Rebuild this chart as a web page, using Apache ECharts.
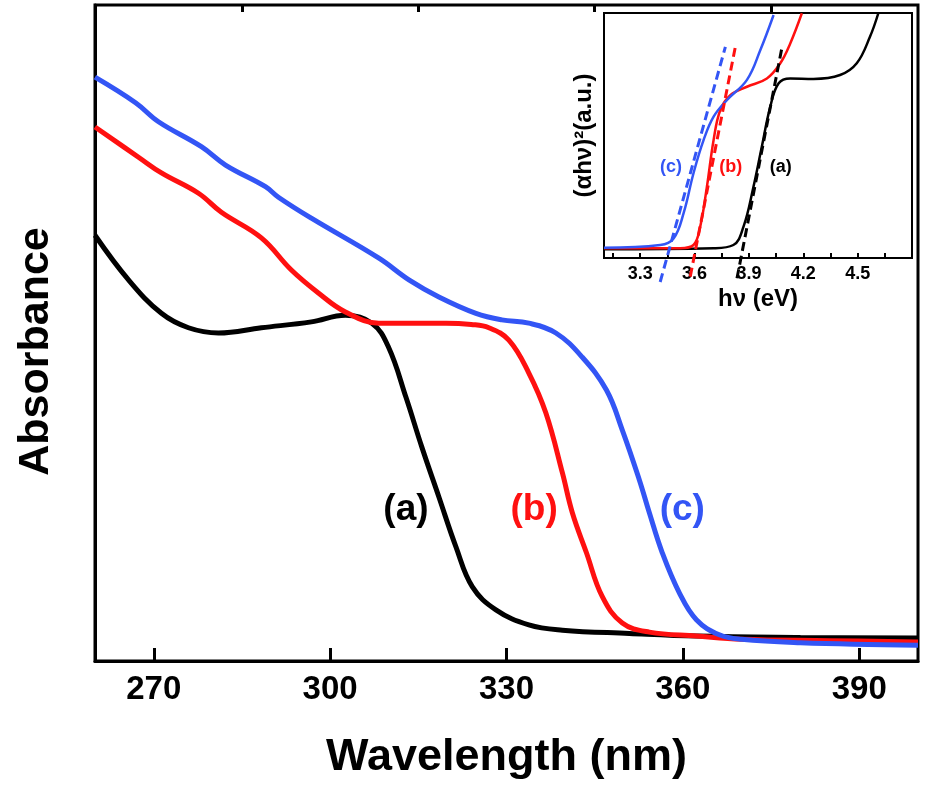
<!DOCTYPE html>
<html>
<head>
<meta charset="utf-8">
<script src="https://cdn.jsdelivr.net/npm/echarts@6/dist/echarts.min.js"></script>
<style>
  html, body { margin: 0; padding: 0; background: #fff; }
  #chart { width: 925px; height: 785px; }
</style>
</head>
<body>
<div id="chart"></div>
<script>
// main spectrum: [wavelength nm, absorbance a.u.]
const curveA = [[260,0.649],[265.7,0.581],[271.3,0.530],[275.9,0.508],[281,0.500],[288.3,0.508],[296.8,0.517],[302.6,0.527],[307.1,0.515],[309.9,0.479],[312.9,0.402],[315.6,0.326],[318.5,0.250],[321.4,0.174],[324.2,0.113],[328.2,0.078],[333.8,0.055],[339.5,0.047],[350.9,0.042],[362.3,0.038],[380,0.036],[400,0.035]]
const curveB = [[260,0.814],[267.4,0.768],[271.3,0.744],[277.6,0.713],[281.5,0.684],[288.3,0.645],[293.4,0.596],[298,0.561],[302.6,0.532],[308.3,0.515],[311.2,0.515],[319.7,0.515],[324,0.513],[327,0.508],[330.4,0.489],[333.8,0.439],[336.7,0.378],[339.5,0.287],[341.2,0.226],[343.6,0.165],[346.3,0.098],[349.7,0.058],[354.3,0.044],[362.3,0.038],[370,0.033],[385,0.031],[400,0.029]]
const curveC = [[260,0.890],[266.9,0.851],[270.8,0.822],[278.1,0.784],[282.2,0.756],[289,0.723],[291.2,0.707],[296.8,0.675],[308.3,0.614],[313.4,0.581],[318.5,0.555],[324.8,0.530],[329.2,0.520],[333.8,0.515],[338.4,0.500],[342.9,0.463],[347,0.413],[349.7,0.352],[352.6,0.276],[354.3,0.226],[356.5,0.165],[359.4,0.104],[362.3,0.063],[366.2,0.040],[370,0.033],[380,0.028],[400,0.024]]
const majorTicks = [270, 300, 330, 360, 390]
const minorTicks = [285, 315, 345, 375]
const curveLabels = [['(a)', 312.9, 0.23], ['(b)', 334.7, 0.23], ['(c)', 359.9, 0.23]]

// inset Tauc plot: [photon energy eV, (ahv)^2 a.u.]
const insetA = [[3.1,0.036],[3.705,0.040],[3.814,0.053],[3.870,0.128],[3.925,0.291],[3.971,0.454],[4.018,0.618],[4.064,0.713],[4.128,0.733],[4.256,0.731],[4.403,0.747],[4.495,0.795],[4.568,0.903],[4.614,0.999]]
const insetB = [[3.1,0.040],[3.521,0.040],[3.594,0.053],[3.631,0.128],[3.668,0.291],[3.705,0.482],[3.742,0.604],[3.797,0.665],[3.889,0.699],[3.999,0.733],[4.073,0.795],[4.128,0.876],[4.192,0.999]]
const insetC = [[3.1,0.042],[3.410,0.053],[3.484,0.080],[3.539,0.182],[3.594,0.346],[3.650,0.482],[3.705,0.577],[3.779,0.645],[3.889,0.727],[3.963,0.849],[4.036,0.992]]
const fitA = [[3.834,-0.083],[4.083,0.862]]
const fitB = [[3.576,-0.076],[3.825,0.862]]
const fitC = [[3.410,-0.098],[3.770,0.862]]
const insetTicks = [3.15,3.3,3.45,3.6,3.75,3.9,4.05,4.2,4.35,4.5,4.65]
const insetTickLabels = [3.3, 3.6, 3.9, 4.2, 4.5]
const insetLabels = [['(c)', 3.47, 0.371], ['(b)', 3.80, 0.371], ['(a)', 4.075, 0.371]]

const FONT = 'Liberation Sans, Arial, sans-serif'
const BLACK = '#000000', RED = '#ff1010', BLUE = '#3355f5'
const colors = [BLACK, RED, BLUE]

function line(data, color, width, gi, dashed) {
    return {
        type: 'line', xAxisIndex: gi === 0 ? 0 : 2, yAxisIndex: gi,
        data: data, showSymbol: false, symbol: 'none',
        smooth: dashed ? false : 0.4,
        clip: !dashed,
        lineStyle: { color: color, width: width, type: dashed ? [9, 5] : 'solid' },
        z: gi === 0 ? 3 : (dashed ? 8 : 7)
    }
}

function labels(list, gi, size) {
    return {
        type: 'scatter', xAxisIndex: gi === 0 ? 0 : 2, yAxisIndex: gi,
        symbolSize: 0, z: 9, itemStyle: { opacity: 1 },
        data: list.map(l => ({
            value: [l[1], l[2]],
            label: { show: true, position: 'inside', formatter: l[0],
                color: colors['abc'.indexOf(l[0][1])], fontSize: size, fontWeight: 'bold', fontFamily: FONT }
        }))
    }
}

const chart = echarts.init(document.getElementById('chart'))
chart.setOption({
    animation: false,
    backgroundColor: '#fff',
    grid: [
        { left: 95, top: 5, right: 7, bottom: 124, outerBoundsMode: 'none', show: true, borderColor: BLACK, borderWidth: 3, backgroundColor: '#fff' },
        { left: 604, top: 13, width: 308, height: 245, outerBoundsMode: 'none', show: true, borderColor: BLACK, borderWidth: 2, backgroundColor: '#fff', z: 5 }
    ],
    xAxis: [
        { type: 'value', gridIndex: 0, min: 260, max: 400,
          axisLine: { show: true, lineStyle: { color: BLACK, width: 3 } },
          axisTick: { show: true, inside: true, length: 13, customValues: majorTicks, lineStyle: { color: BLACK, width: 3 } },
          axisLabel: { show: true, customValues: majorTicks, margin: 12, color: BLACK, fontSize: 33, fontWeight: 'bold', fontFamily: FONT },
          splitLine: { show: false },
          name: 'Wavelength (nm)', nameLocation: 'middle', nameGap: 74,
          nameTextStyle: { color: BLACK, fontSize: 45, fontWeight: 'bold', fontFamily: FONT } },
        { type: 'value', gridIndex: 0, min: 260, max: 400,
          axisLine: { show: false },
          axisTick: { show: true, inside: true, length: 7, customValues: minorTicks, lineStyle: { color: BLACK, width: 3 } },
          axisLabel: { show: false }, splitLine: { show: false } },
        { type: 'value', gridIndex: 1, min: 3.1, max: 4.8, z: 6,
          axisLine: { show: true, lineStyle: { color: BLACK, width: 2 } },
          axisTick: { show: true, inside: true, length: 5, customValues: insetTicks, lineStyle: { color: BLACK, width: 2 } },
          axisLabel: { show: true, customValues: insetTickLabels, margin: 7, color: BLACK, fontSize: 18, fontWeight: 'bold', fontFamily: FONT,
                       formatter: v => v.toFixed(1) },
          splitLine: { show: false },
          name: 'hν (eV)', nameLocation: 'middle', nameGap: 29,
          nameTextStyle: { color: BLACK, fontSize: 24, fontWeight: 'bold', fontFamily: FONT } }
    ],
    yAxis: [
        { type: 'value', gridIndex: 0, min: 0, max: 1,
          axisLine: { show: true, lineStyle: { color: BLACK, width: 3 } },
          axisTick: { show: false }, axisLabel: { show: false }, splitLine: { show: false },
          name: 'Absorbance', nameLocation: 'middle', nameGap: 37, nameRotate: 90,
          nameTextStyle: { color: BLACK, fontSize: 43, fontWeight: 'bold', fontFamily: FONT, padding: [0, 37, 0, 0] } },
        { type: 'value', gridIndex: 1, min: 0, max: 1, z: 6,
          axisLine: { show: true, lineStyle: { color: BLACK, width: 2 } },
          axisTick: { show: false }, axisLabel: { show: false }, splitLine: { show: false },
          name: '(αhν)²(a.u.)', nameLocation: 'middle', nameGap: 8, nameRotate: 90,
          nameTextStyle: { color: BLACK, fontSize: 24, fontWeight: 'bold', fontFamily: FONT } }
    ],
    series: [
        line(curveA, BLACK, 5, 0),
        line(curveB, RED, 5, 0),
        line(curveC, BLUE, 5, 0),
        labels(curveLabels, 0, 37),
        line(insetA, BLACK, 2.5, 1),
        line(insetB, RED, 2.5, 1),
        line(insetC, BLUE, 2.5, 1),
        line(fitA, BLACK, 3, 1, true),
        line(fitB, RED, 3, 1, true),
        line(fitC, BLUE, 3, 1, true),
        labels(insetLabels, 1, 18)
    ]
})
</script>
</body>
</html>
